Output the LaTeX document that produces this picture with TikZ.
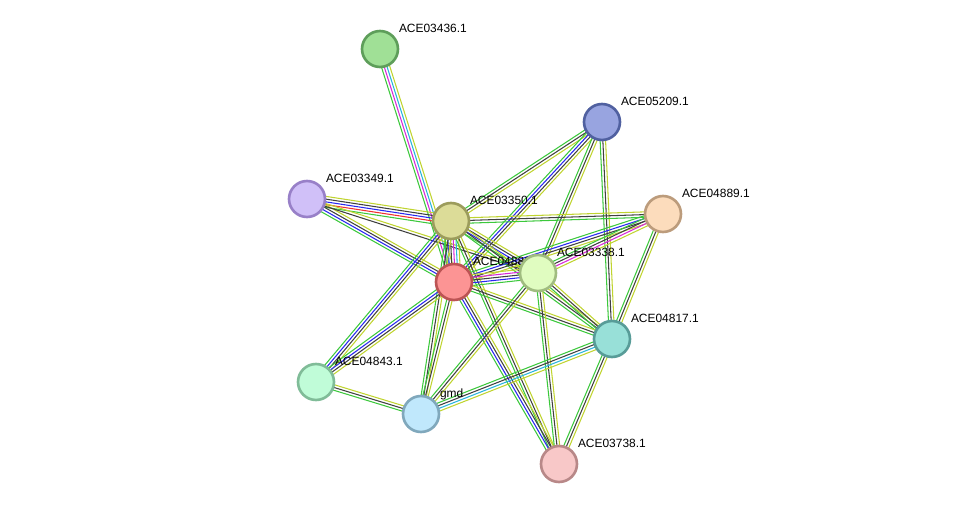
\documentclass[tikz,border=0pt]{standalone}
\usepackage{fontspec}
\setmainfont{Liberation Sans}
\usepackage{tikz}
\usetikzlibrary{calc,backgrounds}
\definecolor{sgreen}{HTML}{3CC83C}
\definecolor{sred}{HTML}{F03030}
\definecolor{sblue}{HTML}{2828F0}
\definecolor{sblack}{HTML}{404040}
\definecolor{smag}{HTML}{D828D8}
\definecolor{scyan}{HTML}{28B4DC}
\definecolor{syel}{HTML}{C0D430}
\definecolor{fA}{HTML}{A0E096}\definecolor{dA}{HTML}{5E9E5A}
\definecolor{fB}{HTML}{98A4E0}\definecolor{dB}{HTML}{5060A0}
\definecolor{fC}{HTML}{D0C0F8}\definecolor{dC}{HTML}{9880C8}
\definecolor{fD}{HTML}{DCDC98}\definecolor{dD}{HTML}{9C9C5C}
\definecolor{fE}{HTML}{FCDCBC}\definecolor{dE}{HTML}{BC9C7C}
\definecolor{fF}{HTML}{FC9494}\definecolor{dF}{HTML}{BC5454}
\definecolor{fG}{HTML}{E0FCC0}\definecolor{dG}{HTML}{A0BC80}
\definecolor{fH}{HTML}{98E0D8}\definecolor{dH}{HTML}{589C98}
\definecolor{fI}{HTML}{C0FCD8}\definecolor{dI}{HTML}{80BC98}
\definecolor{fJ}{HTML}{C0E8FC}\definecolor{dJ}{HTML}{80A8BC}
\definecolor{fK}{HTML}{F8C8C8}\definecolor{dK}{HTML}{B88888}
\tikzstyle{prot} = [circle, minimum size=0.72cm, inner sep=0pt, line width=1.5pt]
\tikzstyle{lbl} = [anchor=base west, inner sep=0pt, xshift=0.1cm, yshift=0.05cm,
  font=\fontsize{6.8}{8}\selectfont]
\newcommand\link[3]{%
  \gdef\nlines{0}%
  \foreach \c in {#3}{\xdef\nlines{\the\numexpr\nlines+1\relax}}%
  \foreach \c [count=\i] in {#3}{%
    \pgfmathsetmacro\off{(\i-(\nlines+1)/2)*1.55}%
    \draw[\c, line width=0.6pt] ($(#1)!\off pt!90:(#2)$) -- ($(#2)!\off pt!-90:(#1)$);
  }}

\begin{document}
\begin{tikzpicture}[x=0.02cm, y=-0.02cm]
    \useasboundingbox (0,0) rectangle (975,510);
    \node[prot,fill=fA,draw=dA,label={[lbl]45:ACE03436.1}] (ace03436) at (380,49) {};
    \node[prot,fill=fB,draw=dB,label={[lbl]45:ACE05209.1}] (ace05209) at (602,122) {};
    \node[prot,fill=fC,draw=dC,label={[lbl]45:ACE03349.1}] (ace03349) at (307,199) {};
    \node[prot,fill=fD,draw=dD,label={[lbl]45:ACE03350.1}] (ace03350) at (451,221) {};
    \node[prot,fill=fE,draw=dE,label={[lbl]45:ACE04889.1}] (ace04889) at (663,214) {};
    \node[prot,fill=fF,draw=dF,label={[lbl]45:ACE04880.1}] (ace04880) at (454,282) {};
    \node[prot,fill=fG,draw=dG,label={[lbl]45:ACE03338.1}] (ace03338) at (538,273) {};
    \node[prot,fill=fH,draw=dH,label={[lbl]45:ACE04817.1}] (ace04817) at (612,339) {};
    \node[prot,fill=fI,draw=dI,label={[lbl]45:ACE04843.1}] (ace04843) at (316,382) {};
    \node[prot,fill=fJ,draw=dJ,label={[lbl]45:gmd}] (gmd) at (421,414) {};
    \node[prot,fill=fK,draw=dK,label={[lbl]45:ACE03738.1}] (ace03738) at (559,464) {};
    \begin{scope}[on background layer]
        \link{ace03436}{ace04880}{sgreen,smag,scyan,syel}
        \link{ace05209}{ace03350}{sgreen,sblack,syel}
        \link{ace05209}{ace04880}{sgreen,sblue,sblack,syel}
        \link{ace05209}{ace03338}{sgreen,sblack,syel}
        \link{ace05209}{ace04817}{sgreen,sblack,syel}
        \link{ace03349}{ace03350}{sgreen,sred,sblue,sblack,syel}
        \link{ace03349}{ace04880}{sgreen,sblue,sblack,syel}
        \link{ace03349}{ace03338}{sblack,syel}
        \link{ace03350}{ace04889}{sgreen,sblack,syel}
        \link{ace03350}{ace04880}{sgreen,sblue,sblack,smag,scyan,syel}
        \link{ace03350}{ace03338}{sgreen,sblue,sblack,syel}
        \link{ace03350}{ace04817}{sgreen,sblack,syel}
        \link{ace03350}{ace04843}{sgreen,sblue,sblack,syel}
        \link{ace03350}{gmd}{sgreen,sblack,syel}
        \link{ace03350}{ace03738}{sgreen,sblack,syel}
        \link{ace04889}{ace04880}{sgreen,sblue,sblack,syel}
        \link{ace04889}{ace03338}{sgreen,sblack,smag,syel}
        \link{ace04889}{ace04817}{sgreen,sblack,syel}
        \link{ace04880}{ace03338}{sgreen,sblue,sblack,smag,syel}
        \link{ace04880}{ace04817}{sgreen,sblack,syel}
        \link{ace04880}{ace04843}{sgreen,sblue,sblack,syel}
        \link{ace04880}{gmd}{sgreen,sblack,syel}
        \link{ace04880}{ace03738}{sgreen,sblue,sblack,syel}
        \link{ace03338}{ace04817}{sgreen,sblack,syel}
        \link{ace03338}{gmd}{sgreen,sblack,syel}
        \link{ace03338}{ace03738}{sgreen,sblack,syel}
        \link{ace04817}{gmd}{sgreen,sblack,scyan,syel}
        \link{ace04817}{ace03738}{sgreen,sblack,syel}
        \link{ace04843}{gmd}{sgreen,sblack,syel}
    \end{scope}
\end{tikzpicture}
\end{document}
